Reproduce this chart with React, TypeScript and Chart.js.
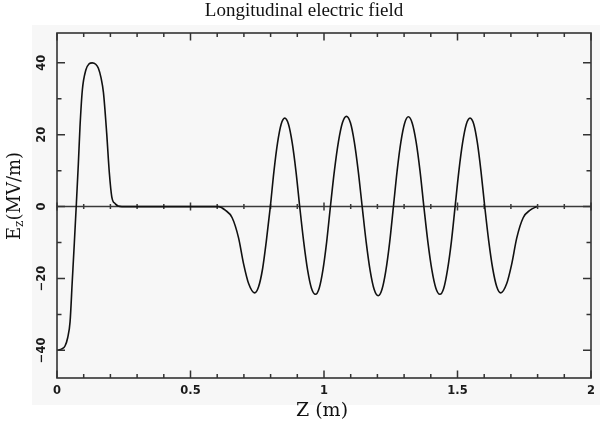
import React, { useEffect, useRef } from "react";
import { Chart, registerables } from "chart.js";

Chart.register(...registerables);

// Longitudinal position z (m)
const zPositions = [
  0, 0.0075, 0.018, 0.03, 0.04, 0.049, 0.057, 0.065, 0.072, 0.08, 0.086, 0.095,
  0.108, 0.12, 0.132, 0.145, 0.155, 0.165, 0.174, 0.186, 0.196, 0.205, 0.218,
  0.243, 0.4, 0.605,
  0.63, 0.656, 0.68, 0.699, 0.718, 0.74, 0.755, 0.77, 0.784, 0.799,
  0.8125, 0.826, 0.8395, 0.853, 0.867, 0.881, 0.895, 0.909,
  0.924, 0.9385, 0.953, 0.968, 0.982, 0.996, 1.01, 1.024,
  1.039, 1.054, 1.069, 1.084, 1.099, 1.1135, 1.128, 1.143,
  1.158, 1.173, 1.188, 1.203, 1.217, 1.2315, 1.246, 1.26,
  1.274, 1.288, 1.302, 1.316, 1.3305, 1.345, 1.3595, 1.374,
  1.389, 1.404, 1.419, 1.434, 1.4485, 1.4625, 1.477, 1.491,
  1.505, 1.519, 1.533, 1.547, 1.561, 1.5745, 1.588, 1.602,
  1.617, 1.632, 1.647, 1.662, 1.684, 1.703, 1.722, 1.746, 1.772, 1.797,
];

// Longitudinal electric field Ez (MV/m)
const ezValues = [
  -40, -39.9, -39.6, -38.8, -36.5, -32, -21, -10, 0, 12, 22, 32.5,
  38, 39.7, 40, 39.6, 38.5, 35.8, 31.7, 20.5, 9.4, 2.8, 0.8,
  0, 0, 0,
  -1, -3.1, -8.7, -16, -21.5, -24, -22.3, -17.3, -9.6, 0,
  9.8, 17.7, 22.9, 24.6, 22.9, 17.7, 9.8, 0,
  -9.8, -17.6, -22.7, -24.4, -22.7, -17.6, -9.8, 0,
  10, 18, 23.3, 25.1, 23.3, 18, 10, 0,
  -9.9, -17.9, -23.1, -24.8, -23.1, -17.9, -9.9, 0,
  10, 18, 23.2, 25, 23.2, 18, 10, 0,
  -9.8, -17.6, -22.7, -24.4, -22.7, -17.6, -9.8, 0,
  9.8, 17.7, 22.9, 24.6, 22.9, 17.7, 9.8, 0,
  -9.6, -17.3, -22.3, -24, -21.5, -16, -8.7, -3.1, -1, 0,
];

const xTickLabels = [0, 0.5, 1, 1.5, 2];
const xMinorTicks = [0.1, 0.2, 0.3, 0.4, 0.6, 0.7, 0.8, 0.9, 1.1, 1.2, 1.3, 1.4, 1.6, 1.7, 1.8, 1.9];
const yTickLabels = [-40, -20, 0, 20, 40];
const yMinorTicks = [-30, -10, 10, 30];

const chartTitle = "Longitudinal electric field";
const xTitle = "Z (m)";
const yTitleMain = "E";
const yTitleSub = "z";
const yTitleRest = "(MV/m)";

const X_MIN = 0;
const X_MAX = 2;
const Y_MIN = -47.7;
const Y_MAX = 48.3;

const fmt = (v: number) => (v < 0 ? "\u2212" + String(-v) : String(v));

const framePlugin = {
  id: "framePlugin",
  beforeDraw(chart: any) {
    const ctx = chart.ctx;
    ctx.save();
    ctx.fillStyle = "#ffffff";
    ctx.fillRect(0, 0, chart.width, chart.height);
    ctx.fillStyle = "#f7f7f7";
    ctx.fillRect(32, 25, chart.width - 32, 380);
    ctx.restore();
  },
  beforeDatasetsDraw(chart: any) {
    const { ctx, chartArea, scales } = chart;
    const xs = scales.x;
    const ys = scales.y;
    const y0 = ys.getPixelForValue(0);
    ctx.save();
    ctx.strokeStyle = "#3a3a3a";
    ctx.lineWidth = 1.5;
    ctx.beginPath();
    ctx.moveTo(chartArea.left, y0);
    ctx.lineTo(chartArea.right, y0);
    ctx.stroke();
    ctx.beginPath();
    xMinorTicks.forEach((v) => {
      const px = xs.getPixelForValue(v);
      ctx.moveTo(px, y0 - 2.5);
      ctx.lineTo(px, y0 + 2.5);
    });
    xTickLabels.forEach((v) => {
      const px = xs.getPixelForValue(v);
      ctx.moveTo(px, y0 - 4);
      ctx.lineTo(px, y0 + 4);
    });
    ctx.stroke();
    ctx.restore();
  },
  afterDraw(chart: any) {
    const { ctx, chartArea, scales } = chart;
    const xs = scales.x;
    const ys = scales.y;
    const { left, right, top, bottom } = chartArea;
    ctx.save();
    ctx.strokeStyle = "#333333";
    ctx.lineWidth = 1.6;
    ctx.strokeRect(left, top, right - left, bottom - top);

    ctx.lineWidth = 1.5;
    ctx.beginPath();
    const vtick = (v: number, len: number) => {
      const px = xs.getPixelForValue(v);
      ctx.moveTo(px, bottom);
      ctx.lineTo(px, bottom - len);
      ctx.moveTo(px, top);
      ctx.lineTo(px, top + len);
    };
    const htick = (v: number, len: number) => {
      const py = ys.getPixelForValue(v);
      ctx.moveTo(left, py);
      ctx.lineTo(left + len, py);
      ctx.moveTo(right, py);
      ctx.lineTo(right - len, py);
    };
    xMinorTicks.forEach((v) => vtick(v, 4));
    xTickLabels.forEach((v) => vtick(v, 7.5));
    yMinorTicks.forEach((v) => htick(v, 4.5));
    yTickLabels.forEach((v) => htick(v, 8));
    ctx.stroke();

    // tick labels
    ctx.fillStyle = "#1a1a1a";
    ctx.font = "bold 11.5px 'DejaVu Sans'";
    ctx.textAlign = "center";
    ctx.textBaseline = "middle";
    xTickLabels.forEach((v) => {
      const px = xs.getPixelForValue(v);
      ctx.fillText(String(v), px, bottom + 13);
    });
    yTickLabels.forEach((v) => {
      const py = ys.getPixelForValue(v);
      ctx.save();
      ctx.translate(42, py);
      ctx.rotate(-Math.PI / 2);
      ctx.fillText(fmt(v), 0, 0);
      ctx.restore();
    });

    // chart title
    ctx.fillStyle = "#111111";
    ctx.font = "19px 'Liberation Serif'";
    ctx.textAlign = "center";
    ctx.textBaseline = "middle";
    ctx.fillText(chartTitle, 304, 11);

    // x title
    ctx.font = "19px 'DejaVu Serif'";
    ctx.fillText(xTitle, (left + right) / 2 - 2, 411);

    // y title with subscript
    const mainFont = "18px 'DejaVu Serif'";
    const subFont = "12px 'DejaVu Serif'";
    ctx.font = mainFont;
    const wE = ctx.measureText(yTitleMain).width;
    const wR = ctx.measureText(yTitleRest).width;
    ctx.font = subFont;
    const wZ = ctx.measureText(yTitleSub).width;
    const total = wE + wZ + wR;
    ctx.save();
    ctx.translate(14, 196);
    ctx.rotate(-Math.PI / 2);
    ctx.textAlign = "left";
    ctx.textBaseline = "alphabetic";
    let cx = -total / 2;
    ctx.font = mainFont;
    ctx.fillText(yTitleMain, cx, 6);
    cx += wE;
    ctx.font = subFont;
    ctx.fillText(yTitleSub, cx, 9);
    cx += wZ;
    ctx.font = mainFont;
    ctx.fillText(yTitleRest, cx, 6);
    ctx.restore();

    ctx.restore();
  },
};

export default function App() {
  const canvasRef = useRef<HTMLCanvasElement | null>(null);

  useEffect(() => {
    document.body.style.margin = "0";
    const canvas = canvasRef.current;
    if (!canvas) return;
    const points = zPositions.map((z, i) => ({ x: z, y: ezValues[i] }));
    const chart = new Chart(canvas, {
      type: "line",
      data: {
        datasets: [
          {
            data: points,
            borderColor: "#111111",
            borderWidth: 1.6,
            pointRadius: 0,
            fill: false,
            cubicInterpolationMode: "monotone",
          },
        ],
      },
      options: {
        responsive: false,
        animation: false,
        devicePixelRatio: 1,
        layout: { padding: { left: 57, right: 9, top: 33, bottom: 51 } },
        plugins: { legend: { display: false }, title: { display: false }, tooltip: { enabled: false } },
        scales: {
          x: { type: "linear", min: X_MIN, max: X_MAX, display: false },
          y: { type: "linear", min: Y_MIN, max: Y_MAX, display: false },
        },
      },
      plugins: [framePlugin],
    } as any);
    return () => chart.destroy();
  }, []);

  return (
    <div style={{ position: "absolute", left: 0, top: 0, width: 600, height: 429 }}>
      <canvas ref={canvasRef} width={600} height={429} />
    </div>
  );
}
